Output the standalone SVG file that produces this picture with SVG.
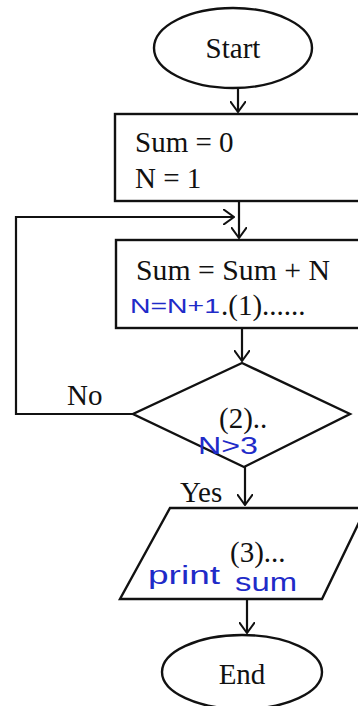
<svg xmlns="http://www.w3.org/2000/svg" width="358" height="706" viewBox="0 0 358 706">
<defs>
<style>
.s{fill:#fff;stroke:#111;stroke-width:2.4}
.c{fill:none;stroke:#111;stroke-width:2.2}
.t{font-family:"Liberation Serif","Times New Roman",serif;font-size:29px;fill:#111}
.h{font-family:"Liberation Sans",Arial,sans-serif;fill:#1f2bc8}
</style>
<marker id="v" viewBox="0 0 12 16" refX="11" refY="8" markerWidth="12" markerHeight="16" markerUnits="userSpaceOnUse" orient="auto">
<path d="M0,0 L11,8 L0,16" fill="none" stroke="#111" stroke-width="2"/>
</marker>
</defs>
<rect width="358" height="706" fill="#fff"/>
<g id="connectors">
<path class="c" d="M238,88 V112" marker-end="url(#v)"/>
<path class="c" d="M239,201 V238" marker-end="url(#v)"/>
<path class="c" d="M133,414 H16 V217 H234" marker-end="url(#v)"/>
<path class="c" d="M242,328 V361" marker-end="url(#v)"/>
<path class="c" d="M245,467 V505" marker-end="url(#v)"/>
<path class="c" d="M247,599 V633" marker-end="url(#v)"/>
<text class="t" x="67" y="405">No</text>
<text class="t" x="180" y="502">Yes</text>
</g>
<g id="start">
<ellipse class="s" cx="233" cy="48" rx="79" ry="40"/>
<text class="t" x="233" y="58" text-anchor="middle">Start</text>
</g>
<g id="init">
<rect class="s" x="115" y="114" width="260" height="87"/>
<text class="t" x="135" y="152">Sum = 0</text>
<text class="t" x="135" y="188">N = 1</text>
</g>
<g id="process">
<rect class="s" x="116" y="240" width="260" height="88"/>
<text class="t" x="136" y="280" textLength="194" lengthAdjust="spacingAndGlyphs">Sum = Sum + N</text>
<text class="h" x="130" y="313" font-size="21" textLength="90" lengthAdjust="spacingAndGlyphs">N=N+1</text>
<text class="t" x="221" y="315">.(1)......</text>
</g>
<g id="decision">
<polygon class="s" points="242,363 350,414 244,467 133,414"/>
<text class="t" x="219" y="428">(2)..</text>
<text class="h" x="198" y="454" font-size="24" textLength="60" lengthAdjust="spacingAndGlyphs">N&gt;3</text>
</g>
<g id="output">
<polygon class="s" points="170,508 366,508 322,599 120,599"/>
<text class="t" x="230" y="562" font-size="27">(3)...</text>
<text class="h" font-size="25"><tspan x="148" y="584" textLength="72" lengthAdjust="spacingAndGlyphs">print</tspan><tspan x="235" y="591" textLength="62" lengthAdjust="spacingAndGlyphs">sum</tspan></text>
</g>
<g id="end">
<ellipse class="s" cx="242" cy="672" rx="80" ry="37"/>
<text class="t" x="242" y="684" text-anchor="middle">End</text>
</g>
</svg>
